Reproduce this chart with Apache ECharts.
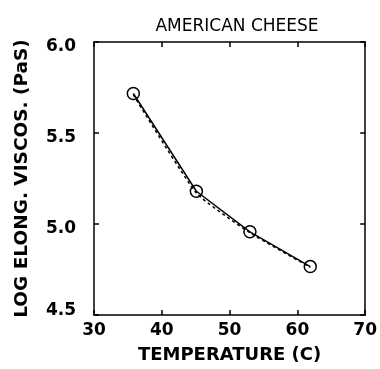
<!DOCTYPE html>
<html><head><meta charset="utf-8">
<script src="https://cdn.jsdelivr.net/npm/echarts@6/dist/echarts.min.js"></script>
<style>html,body{margin:0;padding:0;background:#fff}#c{width:380px;height:369px}</style>
</head><body><div id="c"></div>
<script>
const titleText = "AMERICAN CHEESE";
const xName = "TEMPERATURE (C)";
const yName = "LOG ELONG. VISCOS. (PaS)";
const temperature = [35.8, 45.1, 53.0, 61.9];
const measured = [5.717, 5.18, 4.957, 4.766];
const fitted = [5.71, 5.17, 4.952, 4.762];
const xTicks = [30, 40, 50, 60, 70];
const yTicks = [4.5, 5.0, 5.5, 6.0];

const chart = echarts.init(document.getElementById('c'), null, {renderer: 'canvas'});
const tickFont = {fontFamily: 'DejaVu Sans', fontWeight: 'bold', fontSize: 17, color: '#000'};
const lineStyle = {color: '#000', width: 1.5};
chart.setOption({
  backgroundColor: '#fff',
  animation: false,
  title: {
    text: titleText, left: 232, top: 13, textAlign: 'center',
    textStyle: {fontFamily: 'DejaVu Sans', fontWeight: 'normal', fontSize: 17, color: '#000'}
  },
  grid: {left: 94, right: 10, top: 42, bottom: 50},
  xAxis: [{
    type: 'value', min: xTicks[0], max: xTicks[xTicks.length - 1], interval: 10,
    name: xName, nameLocation: 'middle', nameGap: 31,
    nameTextStyle: {fontFamily: 'DejaVu Sans', fontWeight: 'bold', fontSize: 18, color: '#000'},
    axisLine: {show: true, lineStyle: lineStyle},
    axisTick: {show: true, inside: true, length: 5, lineStyle: lineStyle},
    axisLabel: Object.assign({margin: 7}, tickFont),
    splitLine: {show: false}
  }, {
    type: 'value', position: 'top', min: xTicks[0], max: xTicks[xTicks.length - 1], interval: 10,
    axisLine: {show: true, lineStyle: lineStyle},
    axisTick: {show: true, inside: true, length: 5, lineStyle: lineStyle},
    axisLabel: {show: false}, splitLine: {show: false}
  }],
  yAxis: [{
    type: 'value', min: yTicks[0], max: yTicks[yTicks.length - 1], interval: 0.5,
    name: yName, nameLocation: 'middle', nameGap: 62,
    nameTextStyle: {fontFamily: 'DejaVu Sans', fontWeight: 'bold', fontSize: 18.5, color: '#000'},
    axisLine: {show: true, lineStyle: lineStyle},
    axisTick: {show: true, inside: true, length: 5, lineStyle: lineStyle},
    axisLabel: {
      margin: 18,
      formatter: v => (v === yTicks[0] ? '{lo|' : '{hi|') + v.toFixed(1) + '}',
      rich: {
        hi: Object.assign({padding: [10, 0, 0, 0]}, tickFont),
        lo: Object.assign({padding: [0, 0, 8, 0]}, tickFont)
      }
    },
    splitLine: {show: false}
  }, {
    type: 'value', position: 'right', min: yTicks[0], max: yTicks[yTicks.length - 1], interval: 0.5,
    axisLine: {show: true, lineStyle: lineStyle},
    axisTick: {show: true, inside: true, length: 5, lineStyle: lineStyle},
    axisLabel: {show: false}, splitLine: {show: false}
  }],
  series: [{
    type: 'line', data: temperature.map((t, i) => [t, fitted[i]]),
    smooth: 0.15, showSymbol: false, symbol: 'none',
    lineStyle: {color: '#000', width: 1.5, type: [3, 3]}
  }, {
    type: 'line', data: temperature.map((t, i) => [t, measured[i]]),
    symbol: 'circle', symbolSize: 12, showSymbol: true,
    itemStyle: {color: 'rgba(0,0,0,0)', borderColor: '#000', borderWidth: 1.5},
    lineStyle: {color: '#000', width: 1.5}
  }]
});
</script></body></html>
